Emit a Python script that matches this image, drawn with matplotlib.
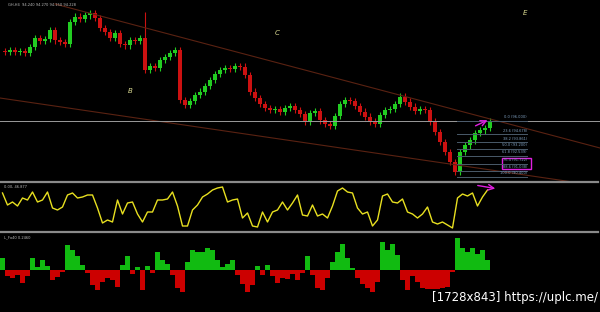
import numpy as np
import matplotlib.pyplot as plt
from matplotlib.patches import Rectangle

# -------------------------------
# Data
# -------------------------------

# candle closes (open = previous close)
closes = [102.9, 103.1, 102.9, 103.0, 102.8, 103.4, 104.3, 104.0, 104.2, 105.1,
          104.1, 103.9, 103.7, 105.9, 106.4, 106.2, 106.6, 106.8, 106.3, 105.3,
          104.9, 104.3, 104.8, 103.7, 103.6, 104.1, 104.0, 104.3, 101.1, 101.5,
          101.3, 102.1, 102.4, 102.8, 103.1, 98.1, 97.6, 98.0, 98.6, 98.9,
          99.5, 100.1, 100.7, 101.1, 101.3, 101.2, 101.5, 101.4, 100.6, 98.9,
          98.3, 97.7, 97.3, 97.1, 97.2, 96.9, 97.3, 97.5, 97.1, 96.7,
          95.9, 96.8, 97.0, 96.1, 95.7, 95.5, 96.5, 97.7, 98.1, 98.0,
          97.5, 96.9, 96.4, 95.9, 95.7, 96.6, 97.1, 97.2, 97.7, 98.4,
          97.9, 97.4, 97.0, 97.2, 97.1, 95.9, 94.9, 93.9, 92.9, 91.9,
          90.9, 92.9, 93.6, 94.1, 94.8, 95.1, 95.3, 95.9]
first_open = 103.0
spike_idx = 28
spike_high = 106.9

# oscillator (yellow line)
osc = [80, 56, 62, 54, 70, 66, 82, 62, 66, 82,
       50, 46, 52, 76, 80, 70, 72, 76, 76, 50,
       20, 26, 22, 66, 38, 60, 62, 38, 22, 42,
       42, 66, 66, 68, 82, 54, 14, 14, 46, 56,
       72, 78, 86, 90, 92, 62, 66, 68, 30, 40,
       14, 12, 42, 22, 42, 46, 62, 46, 60, 76,
       36, 34, 56, 34, 38, 30, 54, 84, 90, 82,
       80, 50, 38, 42, 14, 26, 74, 78, 62, 60,
       68, 42, 38, 30, 38, 52, 22, 18, 22, 16,
       10, 70, 78, 74, 80, 54, 72, 86]

# histogram
hist = [12, -6, -8, -5, -13, -6, 12, 3, 10, 4,
        -10, -7, -2, 25, 20, 14, 5, -3, -15, -20,
        -12, -8, -10, -17, 5, 14, -4, 3, -20, 4,
        -3, 18, 10, 6, -5, -18, -22, 8, 20, 18,
        18, 22, 20, 10, 3, 6, 10, -5, -14, -22,
        -15, 4, -5, 5, -6, -13, -8, -9, -4, -10,
        -3, 14, -5, -18, -20, -8, 8, 18, 26, 12,
        2, -8, -14, -18, -22, -12, 28, 20, 26, 15,
        -10, -20, -6, -12, -18, -19, -19, -19, -18, -17,
        -2, 32, 22, 18, 22, 16, 20, 10]

fib_levels = ['0.0', '23.6', '38.2', '50.0', '61.8', '76.4', '88.6', '100.0']
fib_ratio = [0.0, 0.236, 0.382, 0.5, 0.618, 0.764, 0.886, 1.0]
fib_top = 96.0
fib_bottom = 90.4

wave_labels = ['B', 'C', 'E']
wave_pos = [(25, 99.0), (54.4, 104.8), (104, 106.8)]

header = 'GH,H4  94.240 94.270 94.150 94.228'
osc_label = '0.00, 46.877'
hist_label = 'L_Fo40 0.2460'

# -------------------------------
# Figure
# -------------------------------
BG = 'black'
UP = '#22cc22'
DN = '#cc1111'
TREND = '#5a2212'

fig = plt.figure(figsize=(6, 3.12), dpi=100, facecolor=BG)

def px_axes(top, bottom):
    return fig.add_axes([0, 1 - bottom / 312, 1, (bottom - top) / 312], facecolor=BG)

ax = px_axes(0, 181)
ax_o = px_axes(183, 232)
ax_h = px_axes(233, 312)

for a in (ax, ax_o, ax_h):
    a.set_xticks([])
    a.set_yticks([])
    for s in a.spines.values():
        s.set_visible(False)

# candles
n = len(closes)
x = np.arange(n)
opens = np.array([first_open] + closes[:-1])
closes_a = np.array(closes)
up = closes_a >= opens
colors = np.where(up, UP, DN)
lo = np.minimum(opens, closes_a)
hi = np.maximum(opens, closes_a)
highs = hi + 0.35
lows = lo - 0.35
highs[spike_idx] = spike_high
ax.vlines(x, lows, highs, colors=colors, lw=0.8)
ax.bar(x, np.maximum(hi - lo, 0.1), bottom=lo, width=0.7, color=colors, lw=0)
ax.set_xlim(-1, 119)
ax.set_ylim(90, 108.1)

# trend lines
ax.plot([10, 119], [107.7, 93.3], color=TREND, lw=0.8)
ax.plot([-1, 119], [98.3, 89.5], color=TREND, lw=0.8)
ax.axhline(96.0, color='#9a9a9a', lw=0.7)

# fibonacci
for lab, r in zip(fib_levels, fib_ratio):
    y = fib_top - r * (fib_top - fib_bottom)
    ax.plot([90.4, 104.4], [y, y], color='#4a5a6a', lw=0.7)
    ax.text(104.4, y + 0.15, lab + ' (%.3f)' % y, color='#7f9fbf', fontsize=2.6,
            ha='right', va='bottom')
ax.add_patch(Rectangle((99.4, 91.2), 5.8, 1.1, fill=False, ec='#e020e0', lw=1.0))
ax.annotate('', xy=(97, 96.2), xytext=(93.6, 95.4),
            arrowprops=dict(arrowstyle='->', color='#e020e0', lw=1.0))

for lab, (wx, wy) in zip(wave_labels, wave_pos):
    ax.text(wx, wy, lab, color='#d8d890', fontsize=5, style='italic', ha='center', va='center')

ax.text(0.5, 107.6, header, color='#bbbbbb', fontsize=2.6, va='center')

# oscillator
ax_o.plot(np.arange(len(osc)), osc, color='#e8e020', lw=1.0)
ax_o.set_xlim(-0.5, 119.5)
ax_o.set_ylim(2, 100)
ax_o.annotate('', xy=(99.1, 88), xytext=(94.5, 96),
              arrowprops=dict(arrowstyle='->', color='#e020e0', lw=1.0))
ax_o.text(0.3, 92, osc_label, color='#bbbbbb', fontsize=2.6, va='center')

# histogram
h = np.array(hist)
ax_h.bar(np.arange(len(h)), h, width=1.0, color=np.where(h >= 0, '#11bb11', '#cc0000'), lw=0)
ax_h.set_xlim(-0.5, 119.5)
ax_h.set_ylim(-42, 37)
ax_h.text(0.3, 33, hist_label, color='#bbbbbb', fontsize=2.6, va='center')

# panel separators
for ypx in (182, 232):
    fig.add_artist(plt.Line2D([0, 0.997], [1 - ypx / 312] * 2, color='#8a8a8a', lw=1.6))

fig.text(0.997, 0.025, '[1728x843] https://uplc.me/', color='white', fontsize=8.5,
         ha='right', va='bottom')

plt.savefig('out.png', dpi=100, facecolor=BG)
